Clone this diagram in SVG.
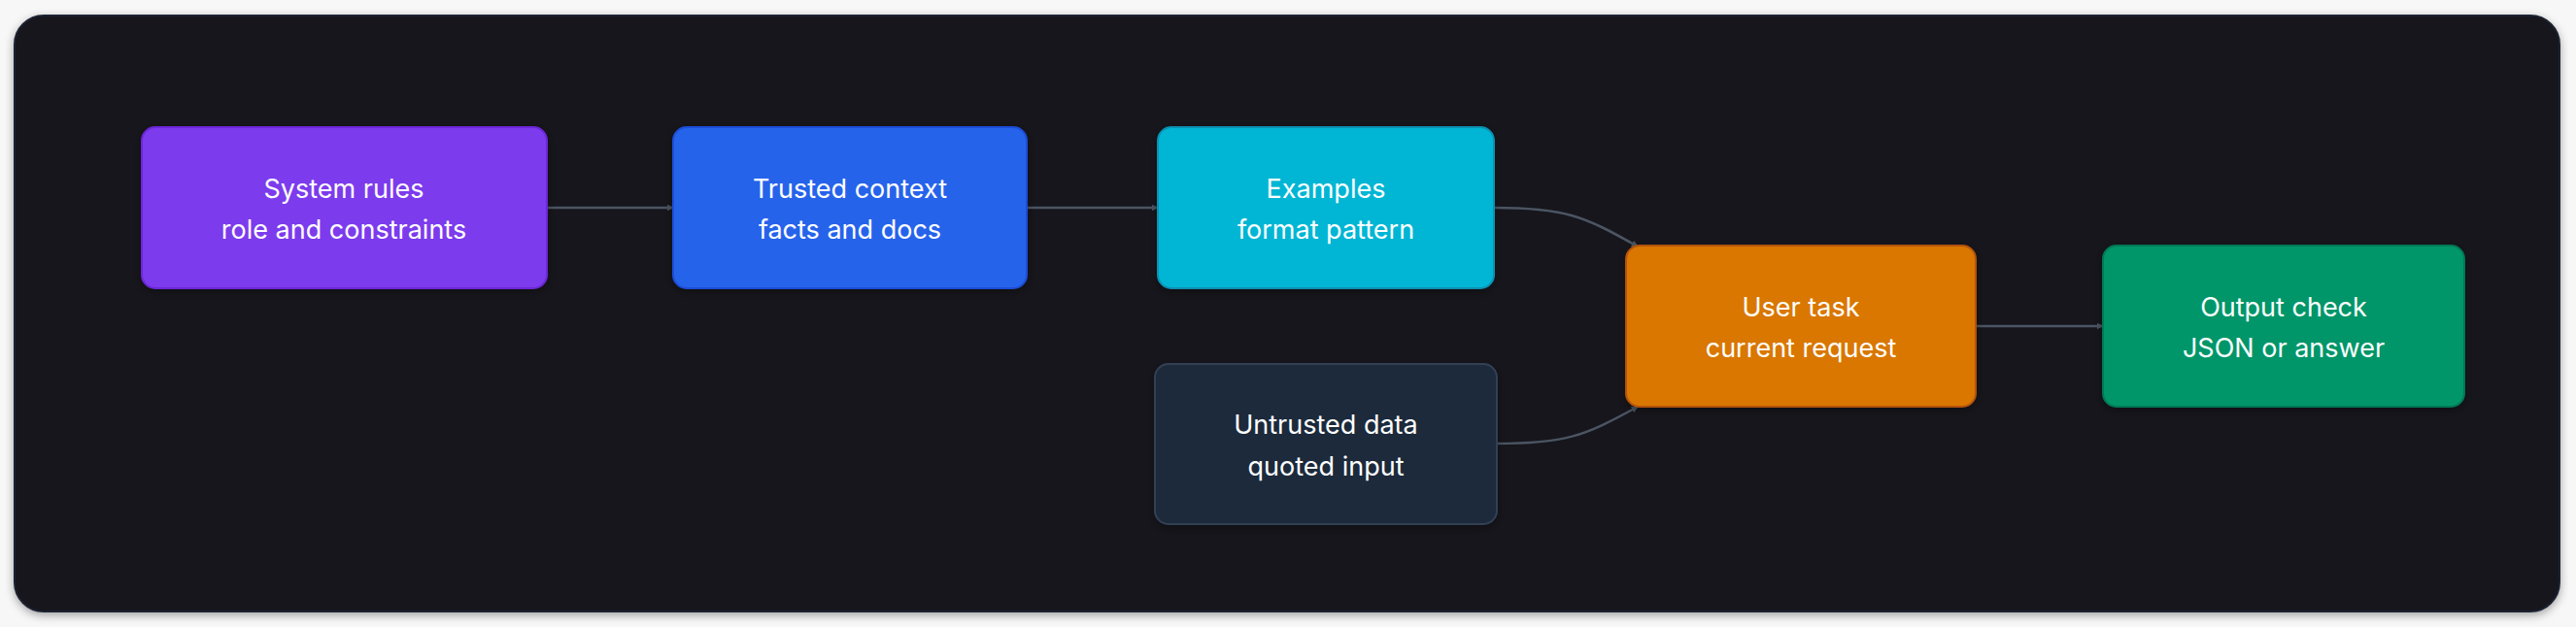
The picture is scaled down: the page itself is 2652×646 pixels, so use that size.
<svg xmlns="http://www.w3.org/2000/svg" width="2652" height="646" viewBox="0 0 2652 646">
<style>
.t{font-family:Inter,"Liberation Sans",sans-serif;font-size:27px;fill:#ffffff;text-anchor:middle;dominant-baseline:central}
.e{fill:none;stroke:#4b5563;stroke-width:2.5}
</style>
<defs>
<marker id="a" viewBox="0 0 10 10" refX="9" refY="5" markerWidth="7" markerHeight="7" markerUnits="userSpaceOnUse" orient="auto"><path d="M0 0L10 5L0 10z" fill="#4b5563"/></marker>
<filter id="s" x="-5%" y="-5%" width="110%" height="115%"><feDropShadow dx="0" dy="3" stdDeviation="5" flood-color="#000" flood-opacity="0.35"/></filter>
</defs>
<rect width="2652" height="646" fill="#f7f7f8"/>
<rect x="15" y="16" width="2620" height="614" rx="30" fill="#12131c" stroke="#1f2330" stroke-width="2" filter="url(#s)"/>
<g id="connectors">
<path class="e" d="M563 214H693" marker-end="url(#a)"/>
<path class="e" d="M1057 214H1192" marker-end="url(#a)"/>
<path class="e" d="M1538 214C1610 214 1630 222 1686 254" marker-end="url(#a)"/>
<path class="e" d="M1541 457C1610 457 1630 450 1686 419" marker-end="url(#a)"/>
<path class="e" d="M2034 336H2165" marker-end="url(#a)"/>
</g>
<g id="system"><rect x="146" y="131" width="417" height="166" rx="14" fill="#7c3aed" stroke="#6d28d9" stroke-width="2" filter="url(#s)"/><text class="t" x="354" y="194">System rules</text><text class="t" x="354" y="236">role and constraints</text></g>
<g id="trusted"><rect x="693" y="131" width="364" height="166" rx="14" fill="#2563eb" stroke="#1d4ed8" stroke-width="2" filter="url(#s)"/><text class="t" x="875" y="194">Trusted context</text><text class="t" x="875" y="236">facts and docs</text></g>
<g id="examples"><rect x="1192" y="131" width="346" height="166" rx="14" fill="#06b6d4" stroke="#0891b2" stroke-width="2" filter="url(#s)"/><text class="t" x="1365" y="194">Examples</text><text class="t" x="1365" y="236">format pattern</text></g>
<g id="untrusted"><rect x="1189" y="375" width="352" height="165" rx="14" fill="#1e293b" stroke="#334155" stroke-width="2" filter="url(#s)"/><text class="t" x="1365" y="437">Untrusted data</text><text class="t" x="1365" y="480">quoted input</text></g>
<g id="user"><rect x="1674" y="253" width="360" height="166" rx="14" fill="#d97706" stroke="#b45309" stroke-width="2" filter="url(#s)"/><text class="t" x="1854" y="316">User task</text><text class="t" x="1854" y="358">current request</text></g>
<g id="output"><rect x="2165" y="253" width="372" height="166" rx="14" fill="#059669" stroke="#047857" stroke-width="2" filter="url(#s)"/><text class="t" x="2351" y="316">Output check</text><text class="t" x="2351" y="358">JSON or answer</text></g>
</svg>
